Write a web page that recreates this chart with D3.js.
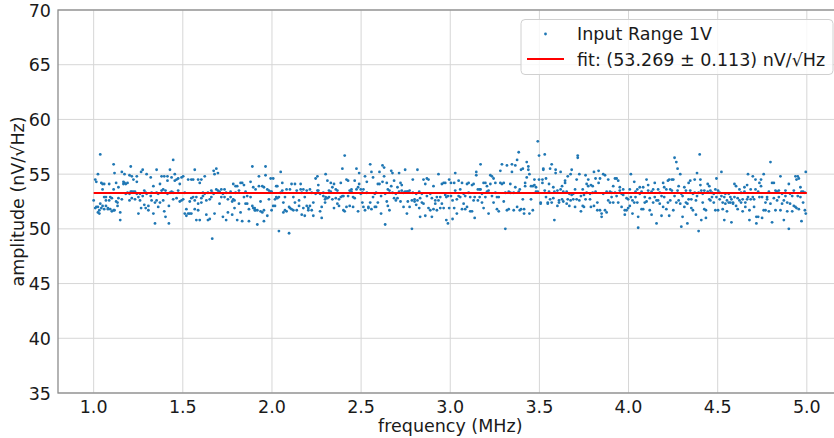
<!DOCTYPE html>
<html>
<head>
<meta charset="utf-8">
<script src="https://cdn.jsdelivr.net/npm/d3@7"></script>
<style>
body { margin: 0; background: #fff; }
svg { display: block; }
text { font-family: "DejaVu Sans", sans-serif; fill: #1a1a1a; }
</style>
</head>
<body>
<svg id="chart" width="834" height="438"></svg>
<script>
// measured noise, rows are [frequency (MHz), amplitude, amplitude, ...]
const seg1 = [
[1.000,52.6],[1.009,54.5,51.9],[1.015,54.3,52.0],[1.024,55.0,52.0,51.5],[1.032,51.7,51.4],[1.037,56.8,52.3],
[1.043,54.2,51.9],[1.050,53.6,54.1,52.1],[1.059,54.1,52.9,51.8],[1.069,52.9,52.6,52.1],[1.080,51.9,51.8],
[1.087,54.1,52.6],[1.093,52.9,51.8],[1.102,52.8,51.6],[1.112,55.9,53.6,51.7],[1.117,55.1,51.7],[1.126,54.2,52.5],
[1.134,52.4,52.1],[1.139,53.8,52.8],[1.149,50.8,51.5],[1.158,55.2,52.7],[1.167,54.3,54.1],[1.173,55.0,54.2],
[1.180,54.1,53.2],[1.190,54.2,53.3],[1.201,54.9,52.6,53.2],[1.208,55.7,53.4],[1.214,54.8,53.4,52.8],[1.223,54.5,53.4],
[1.232,53.4,52.7],[1.242,54.8,54.3,53.2],[1.251,51.4,52.9],[1.260,53.2,52.6],[1.266,55.2,51.9],[1.275,55.4,53.0],
[1.284,53.5,52.2],[1.292,53.3,51.9],[1.297,55.0,53.2],[1.307,52.1,51.7],[1.320,54.7,53.0],[1.325,53.3,52.6],
[1.335,51.4,53.9],[1.344,50.5,52.4],[1.353,55.4,53.3,52.6],[1.362,53.2,52.0],[1.372,54.1,52.4],[1.381,54.8,53.5],
[1.390,53.6,52.6],[1.396,51.6,54.8],[1.403,53.5,51.1],[1.414,54.8,54.4,53.2],[1.422,50.5,52.1],[1.428,55.4,53.3],
[1.437,53.4,54.7],[1.446,56.3,53.3,52.7],[1.455,55.0,54.4],[1.465,54.5,52.8],[1.474,54.6,53.5],[1.483,54.1,52.5],
[1.493,54.7,52.6],[1.502,54.8,52.7],[1.511,53.3,51.4],[1.520,51.8,51.2],[1.530,54.5,51.4],[1.539,52.5,51.4],
[1.548,54.5,52.8,51.4],[1.558,54.5,52.9],[1.567,55.4,52.6,51.8],[1.576,50.8,52.9],[1.586,54.5,52.3,51.7],
[1.595,54.2,50.8],[1.604,54.5,52.8,52.4],[1.613,53.3,53.0],[1.623,54.8,53.2],[1.632,52.6,51.3],[1.641,53.3,50.8],
[1.651,50.9,52.7],[1.660,52.9,53.5],[1.665,49.1,53.3],[1.673,55.3,53.2],[1.678,51.4,55.0],[1.688,55.5,53.6],
[1.697,55.1,53.5],[1.706,53.4,52.3],[1.716,53.6,52.9],[1.725,53.2,51.1],[1.734,53.6,52.9],[1.743,53.3,50.8],
[1.753,52.7,51.5]
];
const seg2 = [
[1.768,53.4,52.9],[1.777,51.3,52.5],[1.783,54.1,52.7],[1.790,52.6,51.9],[1.796,53.3,53.9],[1.805,50.8,53.9],
[1.815,53.5,52.3],[1.824,54.2,51.5],[1.833,50.7,54.2],[1.843,54.0,52.9],[1.852,52.3,53.4],[1.861,53.0,52.3],
[1.871,50.7,51.8],[1.880,54.3,52.9],[1.890,55.7,52.1],[1.895,53.8,51.9],[1.903,51.9,51.7],[1.908,53.6,51.7],
[1.918,50.4,51.7],[1.927,54.8,53.9],[1.936,52.5,51.6],[1.946,53.9,51.5],[1.955,50.7,53.8,51.7],[1.964,55.7,54.9],
[1.974,53.6,51.2],[1.983,52.7,53.5],[1.993,54.6,53.4],[1.998,51.7,53.4],[2.007,54.6,52.1],[2.017,52.1,52.7],
[2.024,53.9,52.9],[2.030,53.9,52.8],[2.039,49.8,52.9],[2.049,55.2,53.3],[2.058,53.5,54.2],[2.064,52.4,51.5],
[2.073,51.7,52.9],[2.082,53.6,51.6],[2.096,49.6,52.0],[2.101,51.9,53.6],[2.110,54.1,51.8],[2.120,52.9,51.7],
[2.129,54.1,52.4],[2.139,53.5,51.7],[2.152,52.1,52.6],[2.161,54.1,53.6],[2.167,51.3,53.3],[2.176,51.9,53.6],
[2.184,51.2,52.9],[2.195,53.5,52.1],[2.204,51.9,51.7],[2.213,53.6,52.1],[2.223,51.7,53.3],[2.232,51.2,52.4],
[2.245,54.6,53.2],[2.255,54.8,53.5],[2.260,54.0,53.5],[2.270,51.6,53.2],[2.279,51.0,52.0],[2.288,53.0,53.3],
[2.298,52.4,52.7],[2.301,55.0,52.9],[2.311,54.4,52.8],[2.320,53.5,52.9],[2.330,54.2,53.4],[2.339,53.8,52.7],
[2.348,54.1,51.9],[2.358,53.6,52.8],[2.367,53.5,52.3],[2.376,52.7,52.1],[2.386,54.2,52.9],[2.395,55.5,53.0],
[2.401,53.0,51.7],[2.408,56.7,51.6],[2.418,54.5,52.0],[2.427,54.4,53.0],[2.436,52.1,53.5],[2.446,53.6,53.4],
[2.455,52.9,52.0],[2.464,54.4,52.8],[2.474,55.5,53.6],[2.483,53.8,51.6],[2.489,55.1,54.1],[2.498,53.6,53.2],
[2.507,52.4,53.3],[2.513,53.6,52.0],[2.522,54.8,51.7],[2.532,54.3,53.3],[2.541,52.0,51.9],[2.551,55.9,52.4],
[2.558,55.2,51.8],[2.567,54.7,52.9],[2.577,53.2,52.0]
];
const seg3 = [
[2.584,53.3,52.0],[2.594,54.1,52.4],[2.603,55.2,54.1],[2.612,51.4,53.0],[2.620,55.8,54.3],[2.629,55.6,54.8],
[2.635,50.4,53.2],[2.644,54.2,52.5],[2.650,53.6,52.1],[2.659,53.5,51.7],[2.669,55.3,53.9],[2.676,55.1,53.3],
[2.685,54.4,52.8],[2.695,53.2,52.6],[2.704,53.8,52.8],[2.713,55.1,53.4],[2.721,54.2,52.5],[2.728,54.0,53.5],
[2.738,53.3,52.0],[2.747,55.4,53.4],[2.757,51.4,53.4],[2.762,52.5,53.4],[2.772,53.5,52.0],[2.785,50.0,52.6],
[2.790,54.5,53.3],[2.800,52.7,52.5],[2.809,52.2,53.2],[2.816,55.4,52.6],[2.826,53.4,51.9],[2.831,51.1,52.8],
[2.841,53.2,52.4],[2.850,54.5,52.3],[2.860,51.2,54.1],[2.869,54.6,53.0],[2.878,54.5,51.9],[2.888,51.7,53.2],
[2.897,51.1,52.8],[2.906,53.9,51.8],[2.916,52.6,52.3],[2.925,51.7,52.9],[2.934,55.0,52.6],[2.944,51.9,52.9],
[2.953,54.1,52.3],[2.963,51.9,54.2],[2.972,54.2,53.1],[2.978,50.8,52.9],[2.987,50.5,53.0],[2.994,54.5,51.9],
[3.004,54.2,53.0],[3.013,50.9,52.6],[3.022,51.9,54.2],[3.028,55.1,53.5],[3.037,51.4,52.7],[3.047,54.4,53.0],
[3.056,53.6,52.9],[3.066,54.2,51.8],[3.075,53.2,52.3],[3.084,53.0,51.8],[3.094,54.1,52.0],[3.103,54.2,53.3],
[3.112,51.6,52.9],[3.122,54.0,51.6],[3.131,54.1,52.6],[3.137,51.0,52.9],[3.146,55.2,54.9],[3.155,53.6,52.6],
[3.165,53.6,52.9],[3.170,55.9,53.6],[3.178,52.4,53.2],[3.187,51.9,54.2],[3.197,54.2,52.9],[3.206,53.9,53.4],
[3.215,51.4,53.5],[3.225,54.9,54.1],[3.234,54.8,53.0],[3.243,54.6,52.4],[3.253,54.2,53.3],[3.262,52.9,51.8],
[3.272,51.6,52.9],[3.281,55.3,54.2],[3.290,55.9,54.1],[3.300,54.2,52.5],[3.309,50.0,53.3],[3.318,55.8,51.7],
[3.328,53.4,51.8],[3.337,53.3,54.1],[3.346,55.9,55.2],[3.356,51.7,53.3],[3.365,53.8,55.8],[3.375,56.3,52.0],
[3.384,57.0,53.4],[3.390,53.6,51.7]
];
const seg4 = [
[3.397,55.4,51.8],[3.407,55.5,52.7],[3.414,51.8,51.4],[3.420,54.2,53.9],[3.429,56.1,54.7],[3.438,55.7,55.4],
[3.444,51.4,55.0],[3.453,53.9,52.7],[3.463,53.9,51.7],[3.472,54.5,54.0],[3.481,53.4,53.8],[3.491,58.0,53.4],
[3.498,56.7,54.5],[3.507,52.4,52.3],[3.517,54.5,54.2],[3.522,55.4,55.5],[3.530,56.8,53.5],[3.537,54.6,52.9],
[3.547,52.3,52.4],[3.554,54.1,53.4],[3.560,52.7,55.5],[3.569,55.9,52.4],[3.578,53.8,52.8],[3.584,50.8,53.4],
[3.591,55.4,55.1],[3.601,52.1,53.5],[3.610,52.6,52.4],[3.619,55.2,53.6],[3.627,53.9,52.7],[3.634,52.5,53.4],
[3.644,54.4,54.2],[3.653,52.3,53.4],[3.659,54.8,52.7],[3.668,52.1,53.2],[3.675,55.0,52.6],[3.681,55.4,53.1],
[3.690,52.7,53.2],[3.700,53.6,52.0],[3.709,54.5,52.7],[3.715,56.7,56.5],[3.724,52.6,55.0],[3.733,51.6,53.0],
[3.743,53.6,52.1],[3.750,52.0,53.1],[3.759,54.9,52.7],[3.765,53.3,54.1],[3.774,53.9,54.5],[3.784,53.2,52.7],
[3.789,52.0,54.0],[3.799,53.9,53.3],[3.806,52.1,55.2],[3.815,53.4,54.6],[3.825,52.4,51.7],[3.832,55.3,54.2],
[3.840,51.7,54.6],[3.849,51.1,51.4],[3.858,53.2,55.0],[3.868,54.9,51.7],[3.877,53.4,51.5],[3.886,52.6,54.5],
[3.896,53.4,52.4],[3.905,53.3,52.9],[3.914,53.9,52.4],[3.924,54.6,53.3],[3.933,54.6,53.0],[3.942,54.4,52.4],
[3.951,53.5,53.8],[3.961,53.2,52.0],[3.970,53.6,53.1],[3.979,51.3,51.7],[3.989,51.7,52.8],[3.998,52.7,51.9],
[4.007,53.6,52.1],[4.013,55.0,52.9],[4.022,52.6,51.4],[4.032,52.4,54.3],[4.039,53.4,52.9],[4.049,53.6,52.4],
[4.054,50.1,51.1],[4.063,53.8,53.2],[4.073,53.4,51.8],[4.082,53.8,51.8],[4.091,52.9,52.4],[4.101,54.5,52.5],
[4.110,54.0,53.5],[4.119,52.8,51.7],[4.129,51.3,53.4],[4.138,53.6,52.4],[4.147,54.2,52.9],[4.157,50.5,52.6],
[4.166,53.6,52.6],[4.175,52.3,53.3],[4.185,51.2,53.0],[4.194,54.2,52.0],[4.200,52.9,53.8]
];
const seg5 = [
[4.212,53.6,51.8],[4.221,54.4,52.4],[4.228,54.5,51.2],[4.234,53.6,52.6],[4.243,54.5,53.5],[4.251,54.5,51.7],
[4.258,56.5,53.0],[4.268,56.1,52.4],[4.275,55.5,53.5],[4.281,53.9,52.6],[4.290,55.0,52.3],[4.296,50.2,53.2],
[4.303,53.0,51.1],[4.313,53.8,52.0],[4.322,52.4,53.5],[4.330,50.5,52.3],[4.337,54.2,52.7],[4.346,54.4,53.5],
[4.352,52.7,51.9],[4.361,53.2,51.7],[4.371,54.5,53.3],[4.378,51.3,52.6],[4.384,55.1,53.0],[4.393,49.8,53.3],
[4.399,56.8],[4.403,54.5,54.0],[4.408,53.5,50.8],[4.416,53.2,52.4],[4.425,51.8,53.5],[4.434,51.0,51.7],
[4.444,54.1,53.4],[4.453,53.9,52.7],[4.459,53.5,52.6],[4.468,52.9,53.3],[4.478,53.2,52.4],[4.487,51.7,53.6],
[4.493,54.6,52.9],[4.502,53.5,51.7],[4.511,53.3,52.7],[4.521,55.2,53.0],[4.528,51.8,52.4],[4.537,50.8,52.9],
[4.543,52.3,53.2],[4.552,52.6,51.6],[4.562,53.2,52.4],[4.571,52.9,52.4],[4.577,50.6,52.7],[4.586,52.4,52.3],
[4.594,54.1,52.9],[4.603,53.9,52.1],[4.612,51.8,52.8],[4.622,53.6,52.6],[4.631,53.3,52.4],[4.640,51.6,52.7],
[4.650,53.8,53.4],[4.655,52.4,52.0],[4.665,54.0,52.7],[4.670,55.0,52.9],[4.678,51.7,50.8],[4.685,53.6,52.7],
[4.697,54.8,52.9],[4.704,52.7,52.0],[4.712,54.5,53.6],[4.717,50.5,51.1],[4.727,53.4,51.1],[4.734,54.2,52.9],
[4.743,54.5,53.9],[4.749,52.9,51.0],[4.758,55.0,51.7],[4.768,52.4,51.7],[4.777,52.9,52.7],[4.787,53.4,51.6],
[4.796,56.1,52.3],[4.805,54.2,50.6],[4.815,54.2,52.8],[4.824,53.5,51.7],[4.833,53.4,52.6],[4.843,52.9,53.5],
[4.852,54.8,51.7],[4.861,53.2,52.3],[4.871,50.8,52.6],[4.880,53.5,53.0],[4.890,52.4,51.6],[4.899,54.1,50.0],
[4.906,53.2,52.3],[4.918,51.6,53.0],[4.927,53.5,52.1],[4.936,54.8,52.0],[4.942,54.5,51.9],[4.949,54.8,53.0],
[4.955,54.6,51.8],[4.964,53.8,52.9],[4.970,50.7,53.4],[4.979,53.4,52.4],[4.989,53.3,51.7],[4.994,55.2,51.4]
];

const xTicks = [1.0, 1.5, 2.0, 2.5, 3.0, 3.5, 4.0, 4.5, 5.0];
const yTicks = [35, 40, 45, 50, 55, 60, 65, 70];
const xLimits = [0.8, 5.2];
const yLimits = [35, 70];
const fitRange = [1.0, 5.0];
const fitValue = 53.269;
const fitError = 0.113;
const seriesLabel = "Input Range 1V";

const width = 834, height = 438;
const plot = { left: 58, top: 10, right: 842.5, bottom: 393 };
const fs = 17.5;

const points = [...seg1, ...seg2, ...seg3, ...seg4, ...seg5]
  .flatMap(r => r.slice(1).map(a => ({ f: r[0], a: a })));

const x = d3.scaleLinear().domain(xLimits).range([plot.left, plot.right]);
const y = d3.scaleLinear().domain(yLimits).range([plot.bottom, plot.top]);

const svg = d3.select("#chart");

// grid
svg.append("g").selectAll("line").data(xTicks).join("line")
  .attr("x1", d => x(d)).attr("x2", d => x(d))
  .attr("y1", plot.top).attr("y2", plot.bottom)
  .attr("stroke", "#d6d6d6").attr("stroke-width", 1);
svg.append("g").selectAll("line").data(yTicks).join("line")
  .attr("x1", plot.left).attr("x2", plot.right)
  .attr("y1", d => y(d)).attr("y2", d => y(d))
  .attr("stroke", "#d6d6d6").attr("stroke-width", 1);

// data points
svg.append("g").selectAll("circle").data(points).join("circle")
  .attr("cx", d => x(d.f)).attr("cy", d => y(d.a))
  .attr("r", 1.4).attr("fill", "#1f77b4");

// fit line
svg.append("line")
  .attr("x1", x(fitRange[0])).attr("x2", x(fitRange[1]))
  .attr("y1", y(fitValue)).attr("y2", y(fitValue))
  .attr("stroke", "#ff0000").attr("stroke-width", 2);

// spines
svg.append("rect")
  .attr("x", plot.left).attr("y", plot.top)
  .attr("width", plot.right - plot.left).attr("height", plot.bottom - plot.top)
  .attr("fill", "none").attr("stroke", "#8c8c8c").attr("stroke-width", 1.3);

// tick labels
svg.append("g").selectAll("text").data(xTicks).join("text")
  .attr("x", d => x(d)).attr("y", plot.bottom + 20)
  .attr("text-anchor", "middle").attr("font-size", fs)
  .text(d => d.toFixed(1));
svg.append("g").selectAll("text").data(yTicks).join("text")
  .attr("x", plot.left - 7).attr("y", d => y(d) + 6.5)
  .attr("text-anchor", "end").attr("font-size", fs)
  .text(d => d);

// axis titles
svg.append("text")
  .attr("x", (plot.left + plot.right) / 2).attr("y", 432)
  .attr("text-anchor", "middle").attr("font-size", fs)
  .text("frequency (MHz)");
svg.append("text")
  .attr("transform", `translate(24,${(plot.top + plot.bottom) / 2}) rotate(-90)`)
  .attr("text-anchor", "middle").attr("font-size", fs)
  .text("amplitude (nV/\u221AHz)");

// legend
const lg = svg.append("g");
lg.append("rect")
  .attr("x", 521).attr("y", 19.5).attr("width", 312).attr("height", 55).attr("rx", 4)
  .attr("fill", "#fff").attr("fill-opacity", 0.8)
  .attr("stroke", "#d0d0d0").attr("stroke-width", 1);
lg.append("circle").attr("cx", 545.5).attr("cy", 34).attr("r", 1.4).attr("fill", "#1f77b4");
lg.append("text").attr("x", 577).attr("y", 40).attr("font-size", fs).text(seriesLabel);
lg.append("line").attr("x1", 527).attr("x2", 564).attr("y1", 59).attr("y2", 59)
  .attr("stroke", "#ff0000").attr("stroke-width", 2);
lg.append("text").attr("x", 577).attr("y", 65.5).attr("font-size", fs)
  .text(`fit: (${fitValue.toFixed(3)} \u00B1 ${fitError.toFixed(3)}) nV/\u221AHz`);
</script>
</body>
</html>
